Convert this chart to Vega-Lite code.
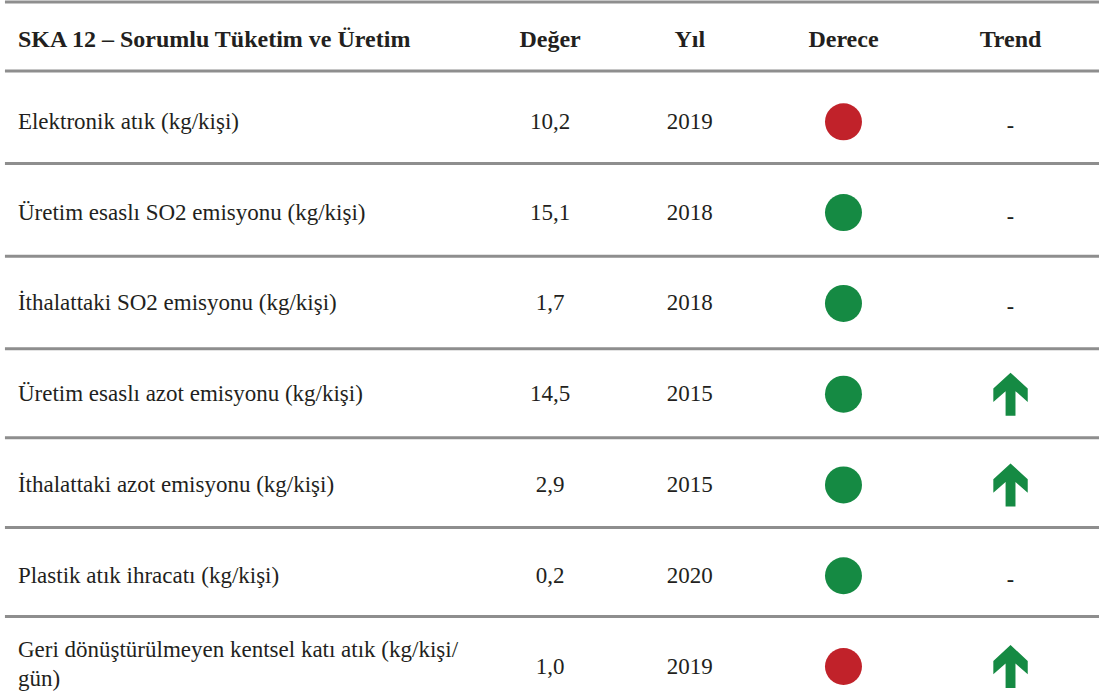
{
  "$schema": "https://vega.github.io/schema/vega-lite/v6.json",
  "width": 1101,
  "height": 700,
  "padding": 0,
  "autosize": {"type": "fit", "contains": "padding"},
  "background": "white",
  "config": {
    "view": {"stroke": null},
    "font": "Liberation Serif",
    "text": {"font": "Liberation Serif", "color": "#231f20"},
    "locale": {"number": {"decimal": ",", "thousands": ".", "grouping": [3], "currency": ["", " ₺"]}}
  },
  "datasets": {
    "satirlar": [
      {"sira": 1, "gosterge": "Elektronik atık (kg/kişi)", "deger": 10.2, "yil": 2019, "derece": "kırmızı", "trend": "yok"},
      {"sira": 2, "gosterge": "Üretim esaslı SO2 emisyonu (kg/kişi)", "deger": 15.1, "yil": 2018, "derece": "yeşil", "trend": "yok"},
      {"sira": 3, "gosterge": "İthalattaki SO2 emisyonu (kg/kişi)", "deger": 1.7, "yil": 2018, "derece": "yeşil", "trend": "yok"},
      {"sira": 4, "gosterge": "Üretim esaslı azot emisyonu (kg/kişi)", "deger": 14.5, "yil": 2015, "derece": "yeşil", "trend": "yükseliyor"},
      {"sira": 5, "gosterge": "İthalattaki azot emisyonu (kg/kişi)", "deger": 2.9, "yil": 2015, "derece": "yeşil", "trend": "yükseliyor"},
      {"sira": 6, "gosterge": "Plastik atık ihracatı (kg/kişi)", "deger": 0.2, "yil": 2020, "derece": "yeşil", "trend": "yok"},
      {"sira": 7, "gosterge": "Geri dönüştürülmeyen kentsel katı atık (kg/kişi/\ngün)", "deger": 1.0, "yil": 2019, "derece": "kırmızı", "trend": "yükseliyor"}
    ],
    "sinirlar": [
      {"sinir": -0.32}, {"sinir": 0.44}, {"sinir": 1.46}, {"sinir": 2.48},
      {"sinir": 3.5}, {"sinir": 4.48}, {"sinir": 5.47}, {"sinir": 6.45}
    ],
    "basliklar": [
      {"sutun": "gosterge", "baslik": "SKA 12 – Sorumlu Tüketim ve Üretim"},
      {"sutun": "deger", "baslik": "Değer"},
      {"sutun": "yil", "baslik": "Yıl"},
      {"sutun": "derece", "baslik": "Derece"},
      {"sutun": "trend", "baslik": "Trend"}
    ]
  },
  "data": {"name": "satirlar"},
  "layer": [
    {
      "data": {"name": "sinirlar"},
      "mark": {"type": "rule", "stroke": "#8e8e8e", "strokeWidth": 3},
      "encoding": {
        "x": {"datum": 0.45, "type": "quantitative", "scale": {"domain": [0, 100], "nice": false, "zero": false}, "axis": null},
        "x2": {"datum": 100},
        "y": {"field": "sinir", "type": "quantitative", "scale": {"domain": [-0.342, 7.369], "reverse": true, "nice": false, "zero": false}, "axis": null}
      }
    },
    {
      "data": {"name": "basliklar"},
      "transform": [{"filter": "datum.sutun === 'gosterge'"}],
      "mark": {"type": "text", "font": "Liberation Serif", "align": "left", "baseline": "middle", "fontSize": 24, "fontWeight": "bold", "color": "#231f20"},
      "encoding": {
        "x": {"datum": 1.63, "type": "quantitative"},
        "y": {"datum": 0.1, "type": "quantitative"},
        "text": {"field": "baslik"}
      }
    },
    {
      "data": {"name": "basliklar"},
      "transform": [{"filter": "datum.sutun === 'deger'"}],
      "mark": {"type": "text", "font": "Liberation Serif", "align": "center", "baseline": "middle", "fontSize": 24, "fontWeight": "bold", "color": "#231f20"},
      "encoding": {
        "x": {"datum": 50.05, "type": "quantitative"},
        "y": {"datum": 0.1, "type": "quantitative"},
        "text": {"field": "baslik"}
      }
    },
    {
      "data": {"name": "basliklar"},
      "transform": [{"filter": "datum.sutun === 'yil'"}],
      "mark": {"type": "text", "font": "Liberation Serif", "align": "center", "baseline": "middle", "fontSize": 24, "fontWeight": "bold", "color": "#231f20"},
      "encoding": {
        "x": {"datum": 62.76, "type": "quantitative"},
        "y": {"datum": 0.1, "type": "quantitative"},
        "text": {"field": "baslik"}
      }
    },
    {
      "data": {"name": "basliklar"},
      "transform": [{"filter": "datum.sutun === 'derece'"}],
      "mark": {"type": "text", "font": "Liberation Serif", "align": "center", "baseline": "middle", "fontSize": 24, "fontWeight": "bold", "color": "#231f20"},
      "encoding": {
        "x": {"datum": 76.75, "type": "quantitative"},
        "y": {"datum": 0.1, "type": "quantitative"},
        "text": {"field": "baslik"}
      }
    },
    {
      "data": {"name": "basliklar"},
      "transform": [{"filter": "datum.sutun === 'trend'"}],
      "mark": {"type": "text", "font": "Liberation Serif", "align": "center", "baseline": "middle", "fontSize": 24, "fontWeight": "bold", "color": "#231f20"},
      "encoding": {
        "x": {"datum": 91.95, "type": "quantitative"},
        "y": {"datum": 0.1, "type": "quantitative"},
        "text": {"field": "baslik"}
      }
    },
    {
      "transform": [{"filter": "indexof(datum.gosterge, '\\n') < 0"}],
      "mark": {"type": "text", "font": "Liberation Serif", "align": "left", "baseline": "middle", "fontSize": 23, "color": "#231f20"},
      "encoding": {
        "x": {"datum": 1.63, "type": "quantitative"},
        "y": {"field": "sira", "type": "quantitative"},
        "text": {"field": "gosterge"}
      }
    },
    {
      "transform": [{"filter": "indexof(datum.gosterge, '\\n') >= 0"}],
      "mark": {"type": "text", "font": "Liberation Serif", "align": "left", "baseline": "middle", "fontSize": 23, "lineBreak": "\n", "lineHeight": 29, "dy": -17, "color": "#231f20"},
      "encoding": {
        "x": {"datum": 1.63, "type": "quantitative"},
        "y": {"field": "sira", "type": "quantitative"},
        "text": {"field": "gosterge"}
      }
    },
    {
      "mark": {"type": "text", "font": "Liberation Serif", "align": "center", "baseline": "middle", "fontSize": 23, "color": "#231f20"},
      "encoding": {
        "x": {"datum": 50.05, "type": "quantitative"},
        "y": {"field": "sira", "type": "quantitative"},
        "text": {"field": "deger", "type": "quantitative", "format": ".1f"}
      }
    },
    {
      "mark": {"type": "text", "font": "Liberation Serif", "align": "center", "baseline": "middle", "fontSize": 23, "color": "#231f20"},
      "encoding": {
        "x": {"datum": 62.76, "type": "quantitative"},
        "y": {"field": "sira", "type": "quantitative"},
        "text": {"field": "yil", "type": "ordinal"}
      }
    },
    {
      "mark": {"type": "point", "shape": "circle", "filled": true, "size": 1369, "opacity": 1},
      "encoding": {
        "x": {"datum": 76.75, "type": "quantitative"},
        "y": {"field": "sira", "type": "quantitative"},
        "color": {"field": "derece", "type": "nominal", "scale": {"domain": ["kırmızı", "yeşil"], "range": ["#c1222a", "#158a43"]}, "legend": null}
      }
    },
    {
      "transform": [{"filter": "datum.trend === 'yükseliyor'"}],
      "mark": {"type": "point", "shape": "M0,-1L0.8,-0.26L0.8,0.36L0.23,-0.14L0.23,1L-0.23,1L-0.23,-0.14L-0.8,0.36L-0.8,-0.26Z", "filled": true, "size": 1849, "opacity": 1, "color": "#158a43"},
      "encoding": {
        "x": {"datum": 91.95, "type": "quantitative"},
        "y": {"field": "sira", "type": "quantitative"}
      }
    },
    {
      "transform": [{"filter": "datum.trend === 'yok'"}],
      "mark": {"type": "text", "font": "Liberation Serif", "align": "center", "baseline": "middle", "fontSize": 22, "fontWeight": "bold", "dy": 3, "text": "-", "color": "#231f20"},
      "encoding": {
        "x": {"datum": 91.95, "type": "quantitative"},
        "y": {"field": "sira", "type": "quantitative"}
      }
    }
  ]
}
